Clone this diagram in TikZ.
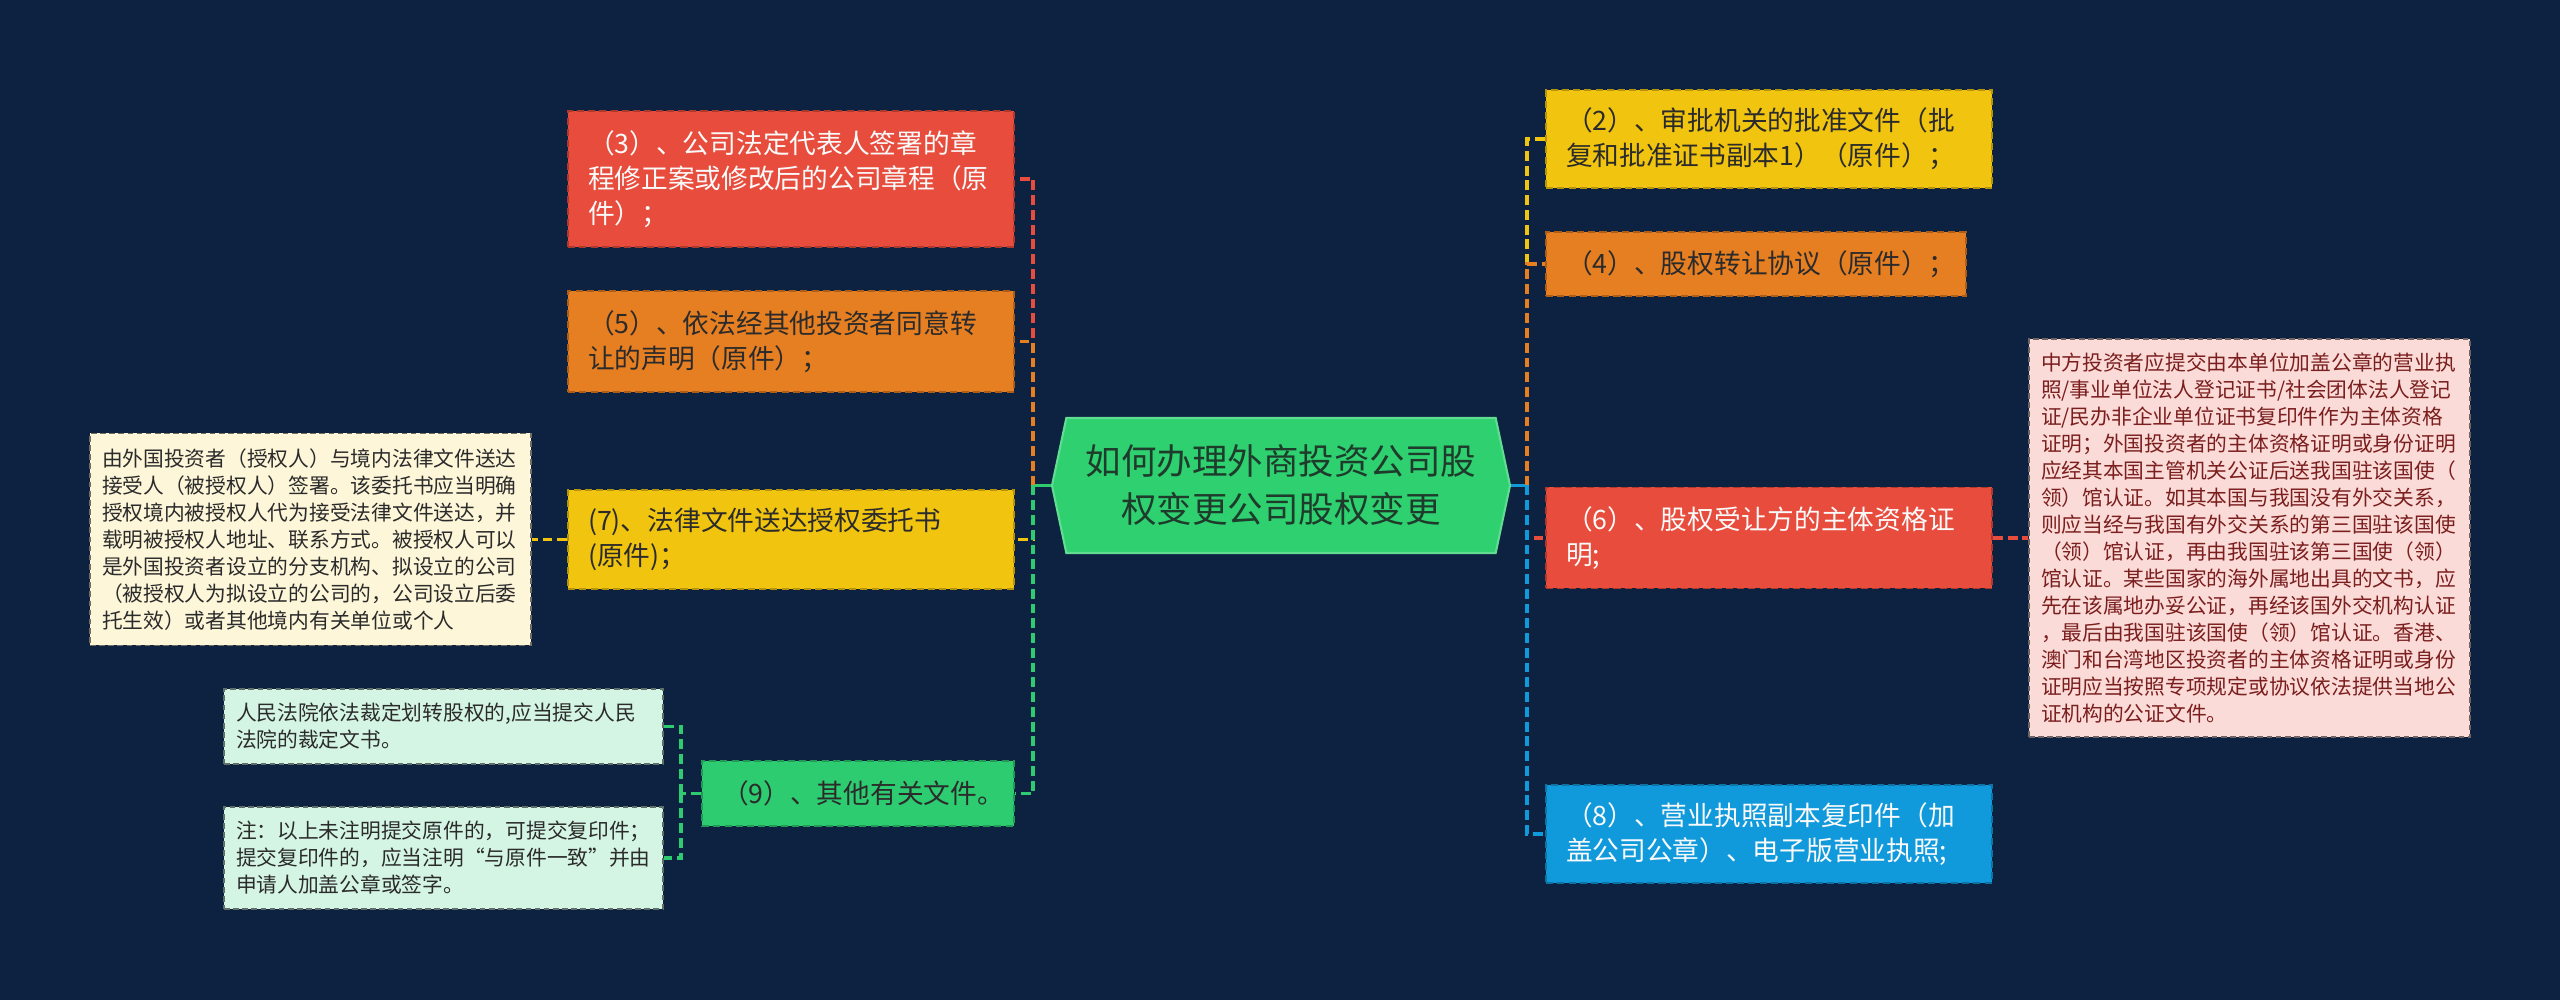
\documentclass[tikz,border=0pt]{standalone}
\usepackage{fontspec}
\setmainfont{Noto Sans CJK SC}
\usetikzlibrary{shapes.symbols}
\definecolor{bgnavy}{HTML}{0C2240}
\definecolor{topicgreen}{HTML}{2ED06F}
\definecolor{topicink}{HTML}{1E3B2C}
\definecolor{boxred}{HTML}{E74C3C}
\definecolor{boxorange}{HTML}{E67E22}
\definecolor{boxyellow}{HTML}{F1C40F}
\definecolor{boxgreen}{HTML}{2ECC71}
\definecolor{boxblue}{HTML}{109ADB}
\definecolor{memocream}{HTML}{FDF6D9}
\definecolor{memopink}{HTML}{FADBD8}
\definecolor{memomint}{HTML}{D4F5E3}
\definecolor{darkink}{HTML}{2B2B2B}
\definecolor{lightink}{HTML}{FAFAFA}
\definecolor{pinkink}{HTML}{7B1E1E}
\newcommand{\boxfont}{\fontsize{7.6pt}{9.96pt}\selectfont}
\newcommand{\memofont}{\fontsize{5.9pt}{7.68pt}\selectfont}
\newcommand{\topicfont}{\fontsize{10.1pt}{13.66pt}\selectfont}
\tikzset{
  topic/.style={signal,signal to=west and east,signal pointer angle=156,
                fill=topicgreen,draw=topicgreen!75!white,line width=0.6pt,
                minimum width=4.58cm,minimum height=1.35cm,inner sep=0pt,
                align=center,font=\topicfont,text=topicink},
  card/.style={fill=#1,draw=#1!75!black,line width=0.5pt,
               dash pattern=on 2pt off 1.2pt,inner xsep=0.2cm,inner ysep=0pt,
               text width=4.06cm,align=left,font=\boxfont,text=darkink},
  memo/.style={fill=#1,draw=#1!45!black,line width=0.45pt,
               dash pattern=on 1.6pt off 1pt,inner xsep=0.12cm,inner ysep=0pt,
               text width=4.17cm,align=left,font=\memofont,text=darkink},
  link/.style={draw=#1,line width=0.9pt,dash pattern=on 2.8pt off 1.4pt},
  stub/.style={draw=#1,line width=0.9pt}
}
\begin{document}
\begin{tikzpicture}[x=1cm,y=1cm]
    \fill[bgnavy] (0,0) rectangle (25.6,-10);
    \node[topic] (topic) at (12.81,-4.855)
      {如何办理外商投资公司股\\权变更公司股权变更};
    % left branch
    \node[card=boxred,text=lightink,minimum height=1.36cm] (n3) at (7.91,-1.79)
      {（3）、公司法定代表人签署的章\\程修正案或修改后的公司章程（原\\件）；};
    \node[card=boxorange,minimum height=1.01cm] (n5) at (7.91,-3.415)
      {（5）、依法经其他投资者同意转\\让的声明（原件）；};
    \node[card=boxyellow,minimum height=0.99cm] (n7) at (7.91,-5.395)
      {(7)、法律文件送达授权委托书\\(原件)；};
    \node[card=boxgreen,text width=2.72cm,minimum height=0.65cm] (n9) at (8.58,-7.935)
      {（9）、其他有关文件。};
    \node[memo=memocream,minimum height=2.12cm] (note7) at (3.105,-5.395)
      {由外国投资者（授权人）与境内法律文件送达\\接受人（被授权人）签署。该委托书应当明确\\
       授权境内被授权人代为接受法律文件送达，并\\载明被授权人地址、联系方式。被授权人可以\\
       是外国投资者设立的分支机构、拟设立的公司\\（被授权人为拟设立的公司的，公司设立后委\\
       托生效）或者其他境内有关单位或个人};
    \node[memo=memomint,text width=4.15cm,minimum height=0.75cm] (court) at (4.435,-7.265)
      {人民法院依法裁定划转股权的,应当提交人民\\法院的裁定文书。};
    \node[memo=memomint,text width=4.15cm,minimum height=1.02cm] (remark) at (4.435,-8.58)
      {注：以上未注明提交原件的，可提交复印件；\\提交复印件的，应当注明“与原件一致”并由\\
       申请人加盖公章或签字。};
    % right branch
    \node[card=boxyellow,minimum height=0.98cm] (n2) at (17.69,-1.39)
      {（2）、审批机关的批准文件（批\\复和批准证书副本1）（原件）；};
    \node[card=boxorange,text width=3.80cm,minimum height=0.64cm] (n4) at (17.56,-2.64)
      {（4）、股权转让协议（原件）；};
    \node[card=boxred,text=lightink,minimum height=1.01cm] (n6) at (17.69,-5.38)
      {（6）、股权受让方的主体资格证\\明;};
    \node[card=boxblue,text=lightink,minimum height=0.98cm] (n8) at (17.69,-8.34)
      {（8）、营业执照副本复印件（加\\盖公司公章）、电子版营业执照;};
    \node[memo=memopink,text=pinkink,minimum height=3.98cm] (note6) at (22.495,-5.38)
      {中方投资者应提交由本单位加盖公章的营业执\\照/事业单位法人登记证书/社会团体法人登记\\
       证/民办非企业单位证书复印件作为主体资格\\证明；外国投资者的主体资格证明或身份证明\\
       应经其本国主管机关公证后送我国驻该国使（\\领）馆认证。如其本国与我国没有外交关系，\\
       则应当经与我国有外交关系的第三国驻该国使\\（领）馆认证，再由我国驻该第三国使（领）\\
       馆认证。某些国家的海外属地出具的文书，应\\先在该属地办妥公证，再经该国外交机构认证\\
       ，最后由我国驻该国使（领）馆认证。香港、\\澳门和台湾地区投资者的主体资格证明或身份\\
       证明应当按照专项规定或协议依法提供当地公\\证机构的公证文件。};
    % connectors
    \coordinate (jl) at (10.33,-4.855);
    \coordinate (jr) at (15.27,-4.855);
    \coordinate (j9) at (6.81,-7.935);
    \draw[stub=boxgreen] (topic.west) -- (jl);
    \foreach \n/\col in {n3/boxred,n5/boxorange,n7/boxyellow,n9/boxgreen}
      \draw[link=\col] (jl) |- (\n.east);
    \draw[stub=boxblue] (topic.east) -- (jr);
    \foreach \n/\col in {n2/boxyellow,n4/boxorange,n6/boxred,n8/boxblue}
      \draw[link=\col] (jr) |- (\n.west);
    \draw[link=boxyellow] (n7.west) -- (note7.east);
    \draw[link=boxred] (n6.east) -- (note6.west);
    \draw[link=boxgreen] (n9.west) -- (j9);
    \draw[link=boxgreen] (j9) |- (court.east);
    \draw[link=boxgreen] (j9) |- (remark.east);
\end{tikzpicture}
\end{document}
